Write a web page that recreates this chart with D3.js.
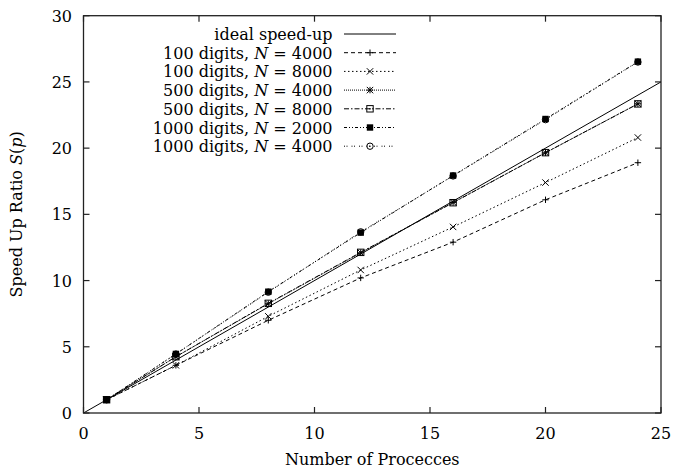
<!DOCTYPE html>
<html><head><meta charset="utf-8">
<script src="https://cdn.jsdelivr.net/npm/d3@7"></script>
<style>body{margin:0;background:#fff}text{font-family:"DejaVu Serif",serif;fill:#000}</style>
</head><body><svg id="c" width="673" height="470"></svg>
<script>
const procs = [1, 4, 8, 12, 16, 20, 24];
const ideal = [[0, 0], [25, 25]];
const d100n4000 = [1, 3.6, 7.0, 10.2, 12.9, 16.1, 18.9];
const d100n8000 = [1, 3.6, 7.3, 10.8, 14.05, 17.4, 20.8];
const d500n4000 = [1, 4.25, 8.25, 12.1, 15.9, 19.65, 23.35];
const d500n8000 = [1, 4.25, 8.28, 12.13, 15.88, 19.66, 23.34];
const d1000n2000 = [1, 4.46, 9.16, 13.62, 17.93, 22.2, 26.53];
const d1000n4000 = [1, 4.45, 9.12, 13.68, 17.9, 22.15, 26.5];
const seriesNames = ["100 digits, N = 4000","100 digits, N = 8000","500 digits, N = 4000","500 digits, N = 8000","1000 digits, N = 2000","1000 digits, N = 4000"];
const xTicks = [0, 5, 10, 15, 20, 25];
const yTicks = [0, 5, 10, 15, 20, 25, 30];

const svg = d3.select("#c");
const L = 83.5, R = 661, T = 15.7, B = 413;
const FS = 16;
const x = d3.scaleLinear().domain([0, 25]).range([L, R]);
const y = d3.scaleLinear().domain([0, 30]).range([B, T]);

const series = [
  {vals: d100n4000, dash: "4,3", mk: "plus"},
  {vals: d100n8000, dash: "1.5,2.5", mk: "cross"},
  {vals: d500n4000, dash: "1,1", mk: "star"},
  {vals: d500n8000, dash: "5,2,1.5,2", mk: "sqdot"},
  {vals: d1000n2000, dash: "3,2,1,2,1,2", mk: "fsq"},
  {vals: d1000n4000, dash: "1,1.5,1,4", mk: "circ"}
];

function marker(g, type, cx, cy) {
  const s = 3.2;
  const p = g.append("g").attr("transform", `translate(${cx},${cy})`);
  const st = el => el.attr("stroke", "#000").attr("stroke-width", 1).attr("fill", "none");
  if (type === "plus" || type === "star") {
    st(p.append("path").attr("d", `M${-s},0H${s}M0,${-s}V${s}`));
  }
  if (type === "cross" || type === "star") {
    st(p.append("path").attr("d", `M${-s},${-s}L${s},${s}M${-s},${s}L${s},${-s}`));
  }
  if (type === "sqdot") {
    st(p.append("rect").attr("x", -s).attr("y", -s).attr("width", 2 * s).attr("height", 2 * s));
    p.append("rect").attr("x", -0.7).attr("y", -0.7).attr("width", 1.4).attr("height", 1.4).attr("fill", "#000");
  }
  if (type === "fsq") {
    p.append("rect").attr("x", -s).attr("y", -s).attr("width", 2 * s).attr("height", 2 * s).attr("fill", "#000");
  }
  if (type === "circ") {
    st(p.append("circle").attr("r", s));
    p.append("circle").attr("r", 0.7).attr("fill", "#000");
  }
}

const line = d3.line().x((d, i) => x(procs[i])).y(d => y(d));

svg.append("path").attr("d", d3.line().x(d => x(d[0])).y(d => y(d[1]))(ideal))
  .attr("stroke", "#000").attr("stroke-width", 1).attr("fill", "none");

series.forEach(s => {
  svg.append("path").attr("d", line(s.vals)).attr("stroke", "#000").attr("stroke-width", 1)
    .attr("fill", "none").attr("stroke-dasharray", s.dash);
  s.vals.forEach((v, i) => marker(svg, s.mk, x(procs[i]), y(v)));
});

const ax = svg.append("g");
ax.append("rect").attr("x", L).attr("y", T).attr("width", R - L).attr("height", B - T)
  .attr("fill", "none").attr("stroke", "#222").attr("stroke-width", 1.3);
xTicks.forEach(t => {
  ax.append("line").attr("x1", x(t)).attr("x2", x(t)).attr("y1", B).attr("y2", B - 6).attr("stroke", "#222").attr("stroke-width", 1.2);
  ax.append("line").attr("x1", x(t)).attr("x2", x(t)).attr("y1", T).attr("y2", T + 6).attr("stroke", "#222").attr("stroke-width", 1.2);
  ax.append("text").attr("x", x(t)).attr("y", B + 26).attr("text-anchor", "middle").attr("font-size", FS).text(t);
});
yTicks.forEach(t => {
  ax.append("line").attr("x1", L).attr("x2", L + 6).attr("y1", y(t)).attr("y2", y(t)).attr("stroke", "#222").attr("stroke-width", 1.2);
  ax.append("line").attr("x1", R).attr("x2", R - 6).attr("y1", y(t)).attr("y2", y(t)).attr("stroke", "#222").attr("stroke-width", 1.2);
  ax.append("text").attr("x", 72).attr("y", y(t) + 6).attr("text-anchor", "end").attr("font-size", FS).text(t);
});

svg.append("text").attr("x", (L + R) / 2).attr("y", 465).attr("text-anchor", "middle").attr("font-size", FS).text("Number of Procecces");
const yl = svg.append("text").attr("transform", `translate(22,${(T + B) / 2}) rotate(-90)`).attr("text-anchor", "middle").attr("font-size", FS);
yl.append("tspan").text("Speed Up Ratio ");
yl.append("tspan").attr("font-style", "italic").text("S");
yl.append("tspan").text("(");
yl.append("tspan").attr("font-style", "italic").text("p");
yl.append("tspan").text(")");

const lx = 332.5, sx1 = 344, sx2 = 396, ly0 = 34, dy = 18.7;
function legText(row, label) {
  const t = svg.append("text").attr("x", lx).attr("y", ly0 + row * dy + 6).attr("text-anchor", "end").attr("font-size", FS);
  const m = label.match(/^(.*), N = (\d+)$/);
  if (m) {
    t.append("tspan").text(m[1] + ", ");
    t.append("tspan").attr("font-style", "italic").text("N");
    t.append("tspan").text(" = " + m[2]);
  } else t.text(label);
}
legText(0, "ideal speed-up");
svg.append("line").attr("x1", sx1).attr("x2", sx2).attr("y1", ly0).attr("y2", ly0).attr("stroke", "#000").attr("stroke-width", 1);
series.forEach((s, i) => {
  const yy = ly0 + (i + 1) * dy;
  legText(i + 1, seriesNames[i]);
  svg.append("line").attr("x1", sx1).attr("x2", sx2).attr("y1", yy).attr("y2", yy).attr("stroke", "#000")
    .attr("stroke-width", 1).attr("stroke-dasharray", s.dash);
  marker(svg, s.mk, (sx1 + sx2) / 2, yy);
});
</script></body></html>
